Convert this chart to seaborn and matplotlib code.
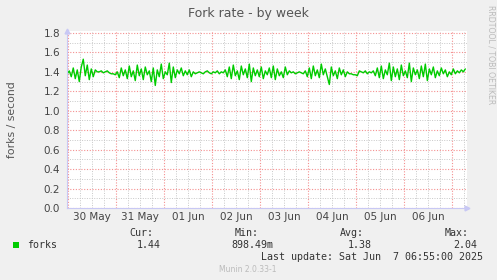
import numpy as np
import pandas as pd
import matplotlib
matplotlib.use("Agg")
import matplotlib.pyplot as plt
import matplotlib.dates as mdates
from matplotlib.ticker import MultipleLocator, FuncFormatter
import seaborn as sns

# ---------------- data (hourly samples) ----------------
start_time = "2025-05-29 23:30"
forks_rate = [
    1.38, 1.41, 1.35, 1.44, 1.33, 1.42, 1.30, 1.45, 1.53, 1.36, 1.47, 1.32, 1.43, 1.35, 1.42,
    1.40, 1.40, 1.41, 1.39, 1.40, 1.41, 1.39, 1.38, 1.38, 1.37,
    1.40, 1.34, 1.44, 1.36, 1.42, 1.33, 1.46, 1.35, 1.41, 1.31, 1.47, 1.36, 1.43, 1.32, 1.45,
    1.37, 1.41, 1.30, 1.44, 1.26, 1.42, 1.35, 1.48, 1.33, 1.40, 1.37, 1.49, 1.29, 1.45, 1.34,
    1.42, 1.38, 1.44, 1.36, 1.41, 1.37, 1.42, 1.35, 1.40, 1.38,
    1.39, 1.40, 1.39, 1.38, 1.40, 1.41, 1.39, 1.38, 1.40, 1.39, 1.41, 1.38, 1.40, 1.39,
    1.42, 1.35, 1.45, 1.33, 1.47, 1.36, 1.41, 1.32, 1.46, 1.37, 1.43, 1.34, 1.48, 1.30, 1.44,
    1.36, 1.42, 1.35, 1.45, 1.33, 1.41, 1.37, 1.44, 1.34, 1.46, 1.32, 1.43, 1.36, 1.40, 1.34,
    1.45, 1.37, 1.41,
    1.39, 1.40, 1.38, 1.39, 1.40, 1.39, 1.38,
    1.41, 1.35, 1.44, 1.33, 1.46, 1.36, 1.42, 1.34, 1.48, 1.37, 1.43, 1.35, 1.27, 1.45, 1.36,
    1.41, 1.33, 1.44, 1.37, 1.42, 1.35, 1.40, 1.38,
    1.38, 1.37, 1.37, 1.36,
    1.41, 1.40, 1.39, 1.41, 1.38, 1.40, 1.39, 1.41,
    1.36, 1.44, 1.34, 1.46, 1.33, 1.42, 1.37, 1.49, 1.31, 1.45, 1.35, 1.43, 1.32, 1.47, 1.36,
    1.41, 1.34, 1.49, 1.30, 1.44, 1.37, 1.42, 1.33, 1.46, 1.35, 1.48, 1.31, 1.43, 1.37, 1.45,
    1.34, 1.41, 1.36, 1.44, 1.38, 1.42, 1.35, 1.40, 1.37, 1.43, 1.38, 1.41, 1.39, 1.42, 1.40,
    1.43,
]
x_start = "2025-05-29 23:22"
x_end = "2025-06-07 07:20"
y_limits = [0.0, 1.82]

title = "Fork rate - by week"
y_label = "forks / second"
series_name = "forks"
stat_headers = ["Cur:", "Min:", "Avg:", "Max:"]
stat_values = ["1.44", "898.49m", "1.38", "2.04"]
last_update = "Last update: Sat Jun  7 06:55:00 2025"
footer = "Munin 2.0.33-1"
side_text = "RRDTOOL / TOBI OETIKER"

df = pd.DataFrame({
    "time": pd.date_range(start_time, periods=len(forks_rate), freq="h"),
    "value": forks_rate,
})

# ---------------- figure ----------------
sns.set_theme(style="white")
plt.rcParams["font.family"] = ["DejaVu Sans"]

W, H = 497, 280
fig = plt.figure(figsize=(W / 100, H / 100), dpi=100, facecolor="#f0f0f0")
ax = fig.add_axes([67 / W, 72 / H, 400 / W, (208 - 31) / H])
ax.set_facecolor("white")

sns.lineplot(data=df, x="time", y="value", ax=ax, color="#00cc00", linewidth=1.0)

ax.set_xlim(pd.Timestamp(x_start), pd.Timestamp(x_end))
ax.set_ylim(*y_limits)

# grids
ax.xaxis.set_major_locator(mdates.DayLocator())
ax.xaxis.set_minor_locator(mdates.HourLocator(byhour=[6, 12, 18]))
ax.xaxis.set_major_formatter(FuncFormatter(lambda v, p: ""))
ax.xaxis.set_minor_formatter(FuncFormatter(
    lambda v, p: mdates.num2date(v).strftime("%d %b") if mdates.num2date(v).hour == 12 else ""))
ax.yaxis.set_major_locator(MultipleLocator(0.2))
ax.yaxis.set_minor_locator(MultipleLocator(0.1))
ax.yaxis.set_major_formatter(FuncFormatter(lambda v, p: f"{v:.1f}"))

ax.grid(which="minor", color="#c8c8c8", linestyle=(0, (1, 1.5)), linewidth=0.7)
ax.grid(which="major", color="#f49090", linestyle=(0, (1, 1.5)), linewidth=0.8)
ax.set_axisbelow(True)

ax.tick_params(axis="x", which="major", length=3, width=0.7, color="#f08080", direction="out", pad=1)
ax.tick_params(axis="x", which="minor", length=0, labelsize=7.5, labelcolor="#444444", pad=3)
ax.tick_params(axis="y", which="major", length=2, width=0.7, color="#f08080", labelsize=7.5,
               labelcolor="#444444", pad=3)
ax.tick_params(axis="y", which="minor", length=0)

for s in ["top", "right"]:
    ax.spines[s].set_visible(False)
for s in ["left", "bottom"]:
    ax.spines[s].set_color("#c8c8f4")
    ax.spines[s].set_linewidth(0.8)
ax.plot([1.0], [0.0], marker=">", markersize=3.5, color="#c8c8f4", transform=ax.transAxes, clip_on=False)
ax.plot([0.0], [1.0], marker="^", markersize=3.5, color="#c8c8f4", transform=ax.transAxes, clip_on=False)

ax.set_xlabel("")
ax.set_ylabel("")

# texts
fig.text(248 / W, 1 - 13 / H, title, ha="center", va="center", fontsize=9, color="#555555")
fig.text(12 / W, 1 - 120 / H, y_label, ha="center", va="center", rotation=90, fontsize=7.8,
         color="#555555")
fig.text(491 / W, 1 - 5 / H, side_text, ha="center", va="top", rotation=270, fontsize=5.6,
         color="#bbbbbb")

mono = "DejaVu Sans Mono"
fig.patches.append(plt.Rectangle((13 / W, 1 - 248 / H), 6 / W, 6 / H, transform=fig.transFigure,
                                 facecolor="#00cc00", edgecolor="none"))
fig.text(27 / W, 1 - 245 / H, series_name, ha="left", va="center", family=mono, fontsize=7.2,
         color="#333333")
header_right = [153, 259, 364, 469]
value_right = [161, 273, 372, 477]
for hdr, xr in zip(stat_headers, header_right):
    fig.text(xr / W, 1 - 233 / H, hdr, ha="right", va="center", family=mono, fontsize=7.2,
             color="#333333")
for val, xr in zip(stat_values, value_right):
    fig.text(xr / W, 1 - 245 / H, val, ha="right", va="center", family=mono, fontsize=7.2,
             color="#333333")
fig.text(483 / W, 1 - 257 / H, last_update, ha="right", va="center", family=mono, fontsize=7.2,
         color="#333333")
fig.text(248 / W, 1 - 269 / H, footer, ha="center", va="center", fontsize=5.5, color="#bbbbbb")

fig.savefig("out.png", dpi=100, facecolor=fig.get_facecolor())
